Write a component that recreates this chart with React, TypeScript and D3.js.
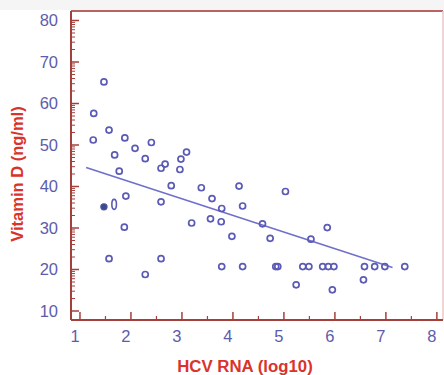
import React from "react";
import * as d3 from "d3";

// HCV RNA (log10) vs Vitamin D (ng/ml)
const hcvRna = [
  1.47, 1.27, 1.57, 1.26, 1.88, 1.68, 2.08, 2.4, 2.28, 1.77, 2.67, 2.59, 2.98, 3.09, 2.96,
  2.79, 3.38, 4.12, 5.03, 3.59, 3.78, 4.19, 3.19, 3.56, 3.77, 4.58, 3.98, 4.73, 5.53, 5.85,
  1.9, 2.59, 1.87, 1.57, 2.59, 2.28, 3.78, 4.19, 4.84, 4.88, 5.37, 5.49, 5.76, 5.87, 5.98,
  6.58, 6.78, 6.98, 7.37, 5.24, 6.56, 5.95,
];
const vitaminD = [
  65.2, 57.6, 53.6, 51.2, 51.7, 47.6, 49.2, 50.6, 46.7, 43.7, 45.4, 44.4, 46.6, 48.3, 44.1,
  40.2, 39.7, 40.1, 38.8, 37.1, 34.7, 35.3, 31.2, 32.2, 31.5, 31.0, 28.0, 27.5, 27.3, 30.1,
  37.7, 36.3, 30.2, 22.6, 22.6, 18.8, 20.7, 20.7, 20.7, 20.7, 20.7, 20.7, 20.7, 20.7, 20.7,
  20.7, 20.7, 20.7, 20.7, 16.3, 17.5, 15.1,
];
// highlighted (filled) point and the oval-shaped one
const filledPoint = [1.47, 35.1];
const ovalPoint = [1.67, 35.7];
// regression line end points
const fitX = [1.12, 7.13];
const fitY = [44.6, 20.5];

const xTicks = [1, 2, 3, 4, 5, 6, 7, 8];
const xMinor = [1.5, 2.5, 3.5, 4.5, 5.5, 6.5, 7.5];
const yTicks = [10, 20, 30, 40, 50, 60, 70, 80];

const axisColor = "#a3403c";
const labelColor = "#5d5cab";
const titleColor = "#d9332b";
const pointColor = "#5b5ab6";

export default function App() {
  const left = 71,
    right = 443,
    top = 11,
    bottom = 320;

  const x = d3.scaleLinear().domain([0.824, 8.12]).range([left, right]);
  const y = d3.scaleLinear().domain([7.83, 82.29]).range([bottom, top]);

  // log-style minor ticks inside each decade
  const yMinor: number[] = [];
  yTicks.forEach((b) => {
    for (let k = 2; k <= 9; k++) {
      const v = b + 10 * Math.log10(k);
      if (v < 82.29) yMinor.push(v);
    }
  });

  const line = d3
    .line<number>()
    .x((d, i) => x(fitX[i]))
    .y((d, i) => y(fitY[i]));

  return (
    <svg
      width={444}
      height={375}
      style={{ position: "absolute", left: 0, top: 0, background: "#fff" }}
      fontFamily="'Liberation Sans', Arial, sans-serif"
    >
      <rect x={0} y={0} width={444} height={10} fill="#f5f5f5" />
      {/* frame */}
      <line x1={left} x2={right} y1={top} y2={top} stroke="#b86464" strokeWidth={2} />
      <line x1={right} x2={right} y1={top} y2={bottom} stroke="#e8c8c8" strokeWidth={1.5} />

      {/* regression line */}
      <path d={line(fitX) || ""} fill="none" stroke="#6f6fcc" strokeWidth={1.6} />

      {/* points */}
      {hcvRna.map((v, i) => (
        <circle
          key={i}
          cx={x(v)}
          cy={y(vitaminD[i])}
          r={3}
          fill="none"
          stroke={pointColor}
          strokeWidth={1.7}
        />
      ))}
      <circle
        cx={x(filledPoint[0])}
        cy={y(filledPoint[1])}
        r={3.1}
        fill="#3c4a8c"
        stroke="#4a52a0"
        strokeWidth={1.2}
      />
      <ellipse
        cx={x(ovalPoint[0])}
        cy={y(ovalPoint[1])}
        rx={2.3}
        ry={5}
        fill="none"
        stroke={pointColor}
        strokeWidth={1.6}
      />

      {/* y axis */}
      <line x1={left} x2={left} y1={top} y2={bottom} stroke={axisColor} strokeWidth={2} />
      {yTicks.map((t) => (
        <line key={t} x1={left} x2={left + 8} y1={y(t)} y2={y(t)} stroke={axisColor} strokeWidth={1.5} />
      ))}
      {yMinor.map((t, i) => (
        <line key={i} x1={left} x2={left + 4} y1={y(t)} y2={y(t)} stroke={axisColor} strokeWidth={1} />
      ))}
      {yTicks.map((t) => (
        <text
          key={t}
          x={58}
          y={y(t)}
          dy="0.36em"
          textAnchor="end"
          fontSize={16.5}
          fill={labelColor}
        >
          {t}
        </text>
      ))}

      {/* x axis */}
      <line x1={left} x2={right} y1={bottom} y2={bottom} stroke={axisColor} strokeWidth={2} />
      {xTicks.map((t) => (
        <line key={t} x1={x(t)} x2={x(t)} y1={bottom} y2={bottom - 8} stroke={axisColor} strokeWidth={1.5} />
      ))}
      {xMinor.map((t) => (
        <line key={t} x1={x(t)} x2={x(t)} y1={bottom} y2={bottom - 4} stroke={axisColor} strokeWidth={1.2} />
      ))}
      {xTicks.map((t) => (
        <text key={t} x={x(t) - 5} y={342} textAnchor="middle" fontSize={16.5} fill={labelColor}>
          {t}
        </text>
      ))}

      {/* titles */}
      <text x={245} y={372} textAnchor="middle" fontSize={16.8} fontWeight="bold" fill={titleColor}>
        HCV RNA (log10)
      </text>
      <text
        transform="translate(23,174) rotate(-90)"
        textAnchor="middle"
        fontSize={16.5}
        fontWeight="bold"
        fill={titleColor}
      >
        Vitamin D (ng/ml)
      </text>
    </svg>
  );
}
